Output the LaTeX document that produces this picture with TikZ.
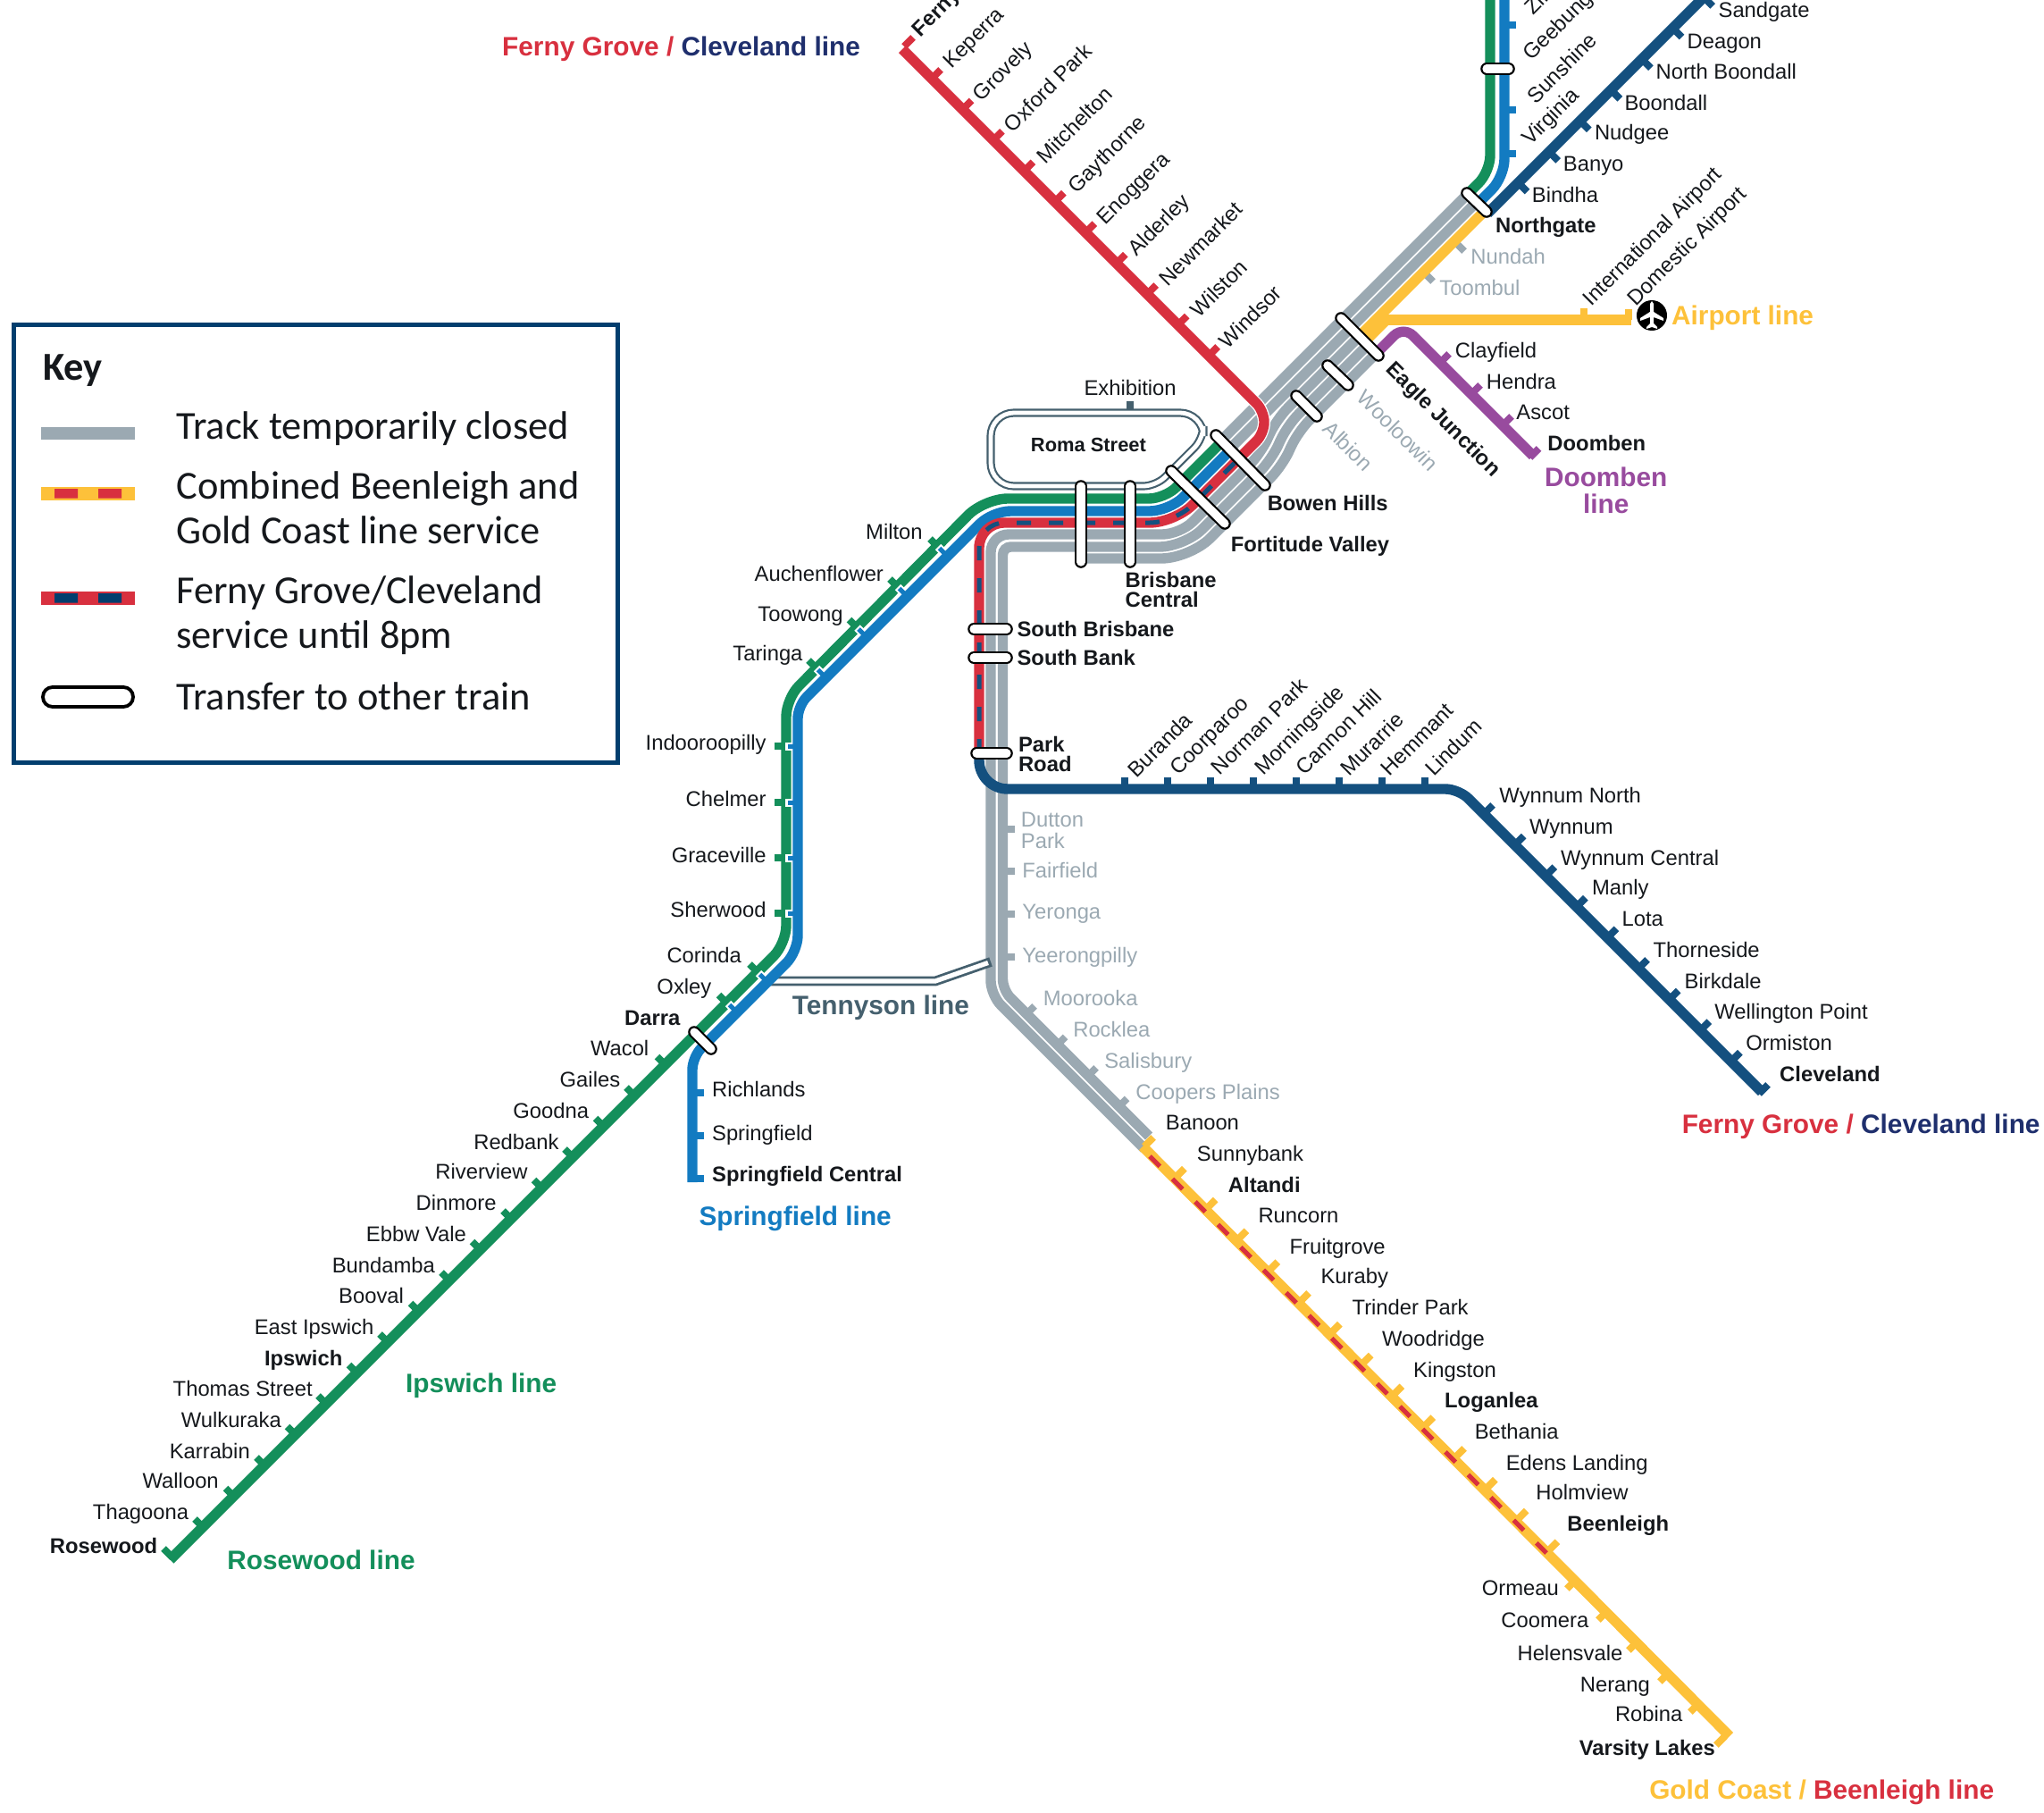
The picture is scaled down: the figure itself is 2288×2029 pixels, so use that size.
\documentclass[tikz,border=0pt]{standalone}
\usepackage{fontspec}
\setmainfont{Liberation Sans}
\newfontfamily\keyfont{Carlito}
\definecolor{cy}{HTML}{FDC13A}
\definecolor{cr}{HTML}{D8303F}
\definecolor{cg}{HTML}{148F5B}
\definecolor{cb}{HTML}{137BC1}
\definecolor{cn}{HTML}{14507F}
\definecolor{cp}{HTML}{984B9E}
\definecolor{cgr}{HTML}{9BA9B2}
\definecolor{cs}{HTML}{45606E}
\definecolor{ckb}{HTML}{023E6E}
\definecolor{ctx}{HTML}{15181C}
\definecolor{chd}{HTML}{1F2F6D}
\tikzset{
 ln/.style={line width=5.7pt},
 tk/.style={line width=4pt},
 dsh/.style={line width=2.5pt,dash pattern=on 8pt off 10pt},
 lab/.style={inner sep=0pt,font=\fontsize{11.9}{13}\selectfont,text=ctx},
 labb/.style={lab,font=\fontsize{11.9}{13}\selectfont\bfseries},
 labg/.style={lab,text=cgr},
 head/.style={inner sep=0pt,font=\fontsize{14.9}{16}\selectfont\bfseries},
 keyt/.style={inner sep=0pt,anchor=base west,font=\keyfont\fontsize{22.2}{24}\selectfont,text=ctx}
}
\newcommand\pill[4]{\draw[line cap=round,line width=6.8pt,black] (#1,#2)--(#3,#4);\draw[line cap=round,line width=4.6pt,white] (#1,#2)--(#3,#4);}
\begin{document}
\begin{tikzpicture}[x=0.5pt,y=-0.5pt]
\useasboundingbox (0,0) rectangle (2288,2029);
\clip (0,0) rectangle (2288,2029);
% ---------- grey tracks
\draw[ln,cgr] (1368,492)--(1643,217);
\draw[ln,cgr] (1377,502)--(1652,227);
\draw[ln,cgr,rounded corners=8pt] (1281,1285.5)--(1109,1113.5)[rounded corners=10pt]--(1109,598)--(1321,598)[rounded corners=9pt]--(1411,508)--(1429,469)--(1522,376);
\draw[ln,cgr,rounded corners=6pt] (1286,1271.5)--(1122.5,1108)[rounded corners=4.5pt]--(1122.5,612)[rounded corners=14pt]--(1326,612)[rounded corners=9pt]--(1423,515)--(1441,476)--(1532,385);
\draw[ln,cgr,rounded corners=16pt] (1210,625)--(1332,625)[rounded corners=9pt]--(1435,522)--(1453,483)--(1541,395);
% grey stops
\foreach \y in {928,975,1023,1071}{\draw[tk,cgr] (1122,\y)--++(14,0);}
\foreach \k in {0,1,2,3}{\draw[tk,cgr] (1149+34.5*\k,1135+34.5*\k)--++(9,-9);}
\draw[tk,cgr] (1631,273)--++(8,8);
\draw[tk,cgr] (1596,307)--++(8,8);
% ---------- Tennyson
\draw[cs,line width=5.4pt,miter limit=10] (862,1098)--(1047,1098)--(1109,1076.5);
\draw[white,line width=2.6pt] (865,1098)--(1047,1098)--(1106,1077.5);
% ---------- Roma Street loop
\draw[cs,line width=4.6pt,fill=white,rounded corners=13pt] (1109,462)--(1347,462)[rounded corners=7pt]--(1347,491)--(1294,544)[rounded corners=13pt]--(1109,544)--cycle;
\draw[white,line width=2.4pt,rounded corners=13pt] (1109,462)--(1347,462)[rounded corners=7pt]--(1347,491)--(1294,544)[rounded corners=13pt]--(1109,544)--cycle;
\draw[tk,cs] (1265,449)--(1265,459);
% ---------- yellow
\draw[ln,cy] (1662,236)--(1522,376);
\draw[ln,cy] (1540,358)--(1826,358);
\fill[cy] (1548,352)--(1525,375)--(1535,383)--(1556,362)--cycle;
\draw[tk,cy] (1773,358)--(1773,345);
\draw[tk,cy] (1823,358)--(1823,346);
\draw[ln,cy] (1279,1283)--(1936,1943);
\foreach \k in {0,...,13}{\draw[tk,cy] (1281+34.8*\k,1283+34.8*\k)--++(10,-10);}
\foreach \a/\b in {1765/1767,1800/1802,1834/1836,1869/1871,1903/1905}{\draw[tk,cy] (\a,\b)--++(-11,11);}
\draw[tk,cy] (1931,1943)--++(-10,10);
\draw[dsh,cr] (1287,1294)--(1735,1742);
% ---------- purple
\draw[ln,cp,rounded corners=7.5pt] (1538,398)--(1571,365)--(1716,510);
\foreach \a/\b in {1612/406,1647/441,1682/476}{\draw[tk,cp] (\a,\b)--++(10,-10);}
\draw[tk,cp] (1712.5,512)--++(10,-10);
% ---------- green
\draw[ln,cg,rounded corners=9pt] (1668,-5)--(1668,192)--(1643,217);
\draw[ln,cg,rounded corners=9pt] (1368,494)--(1304,558)[rounded corners=13pt]--(1102,558)[rounded corners=10pt]--(880,782)--(880,1056)--(190.5,1745.5);
\foreach \y in {835,898,960,1022}{\draw[tk,cg] (880,\y)--++(-13,0);}
\foreach \a/\b in {914/748,959.5/702.5,1005/657,1050/612}{\draw[tk,cg] (\a,\b)--++(-9,-9);}
\foreach \k in {0,1,3,4,...,18}{\draw[tk,cg] (848-34.5*\k,1088+34.5*\k)--++(-9,-9);}
\draw[tk,cg] (193,1743)--++(-10,-10);
% ---------- blue
\foreach \y in {835,898,960,1022}{\draw[white,line width=4.5pt] (888,\y)--(879,\y);}
\foreach \a/\b in {924/758,969.5/712.5,1015/667,1060/622,859/1099,825/1133}{\draw[white,line width=4.5pt] (\a-4,\b-4)--(\a-10,\b-10);}
\draw[ln,cb,rounded corners=10pt] (1684,-5)--(1684,198)--(1654,228);
\draw[ln,cb,rounded corners=11pt] (1377,504)--(1309,572)[rounded corners=10pt]--(1111,572)[rounded corners=7pt]--(893,790)[rounded corners=9pt]--(893,1065)[rounded corners=7pt]--(775,1183)--(775,1323);
\foreach \y in {835,898,960,1022}{\draw[cb,line width=2.5pt] (890,\y)--(881.5,\y);}
\foreach \a/\b in {924/758,969.5/712.5,1015/667,1060/622,859/1099,825/1133}{\draw[cb,line width=2.5pt] (\a-3,\b-3)--(\a-8.5,\b-8.5);}
\foreach \y in {28,123,172}{\draw[tk,cb] (1684,\y)--++(13,0);}
\foreach \y in {1223,1271}{\draw[tk,cb] (775,\y)--++(13,0);}
\draw[tk,cb] (775,1319)--++(13,0);
% ---------- navy
\draw[ln,cn] (1665,239)--(1909,-5);
\foreach \k in {0,...,6}{\draw[tk,cn] (1699.5+34.6*\k,204.5-34.6*\k)--++(10,10);}
\draw[ln,cn,rounded corners=16pt] (1096,843)--(1096,883)[rounded corners=7.5pt]--(1633,883)--(1972,1222);
\foreach \x in {1259,1307,1355,1403,1451,1499,1547,1595}{\draw[tk,cn] (\x,883)--(\x,870);}
\foreach \k in {0,...,8}{\draw[tk,cn] (1661+34.6*\k,911+34.6*\k)--++(10,-10);}
\draw[tk,cn] (1969,1224)--++(10,-10);
% ---------- red
\draw[white,line width=7pt,rounded corners=6pt] (1013,58)--(1415,460)--(1415,485)--(1385,515);
\draw[ln,cr,rounded corners=6pt] (1010,55)--(1415,460)--(1415,485)[rounded corners=14pt]--(1315,585)--(1096,585)--(1096,843);
\draw[dsh,cn,rounded corners=14pt] (1096,843)--(1096,585)--(1315,585)--(1385,515);
\foreach \k in {0,...,9}{\draw[tk,cr] (1043+34.45*\k,88+34.45*\k)--++(10,-10);}
\draw[tk,cr] (1012,52)--++(10,-10);
% ---------- transfer pills
\pill{1642}{216}{1664}{237}
\pill{1501}{356}{1543}{398}
\pill{1486}{409}{1509}{431}
\pill{1451}{443}{1474}{466}
\pill{1361}{487}{1416}{543}
\pill{1311}{527}{1371}{586}
\pill{1210}{544}{1210}{629}
\pill{1265}{544}{1265}{629}
\pill{1090}{704}{1127}{704}
\pill{1090}{736}{1127}{736}
\pill{1093}{843}{1127}{843}
\pill{1664}{77}{1689}{77}
\pill{777}{1155}{796}{1174}
% ---------- airport symbol
\fill[black] (1849,353) circle[radius=17];
\fill[white] (1847,340)--(1849,337)--(1851,340)--(1851,349)--(1862,356)--(1862,359)--(1851,355)--(1851,362)--(1855,366)--(1855,368)--(1849,366)--(1843,368)--(1843,366)--(1847,362)--(1847,355)--(1836,359)--(1836,356)--(1847,349)--cycle;
% ---------- key
\draw[ckb,line width=2.5pt] (15.5,363.5) rectangle (691,853);
\fill[cgr] (46,477.5) rectangle (151,492);
\fill[cy] (46,545) rectangle (151,559.5);
\fill[cr] (61,547) rectangle (87,557.5) (110,547) rectangle (136,557.5);
\fill[cr] (46,661.5) rectangle (151,676.5);
\fill[ckb] (61,664) rectangle (87,674.5) (110,664) rectangle (136,674.5);
\draw[line width=13pt,line cap=round,black] (59,780)--(138,780);
\draw[line width=9pt,line cap=round,white] (59,780)--(138,780);
\node[keyt,font=\keyfont\bfseries\fontsize{22.2}{24}\selectfont] (keyhead) at (48,425) {Key};
\node[keyt] (k1) at (197,491) {Track temporarily closed};
\node[keyt] (k2) at (197,558) {Combined Beenleigh and};
\node[keyt] (k3) at (197,608) {Gold Coast line service};
\node[keyt] (k4) at (197,675) {Ferny Grove/Cleveland};
\node[keyt] (k5) at (197,725) {service until 8pm};
\node[keyt] (k6) at (197,794) {Transfer to other train};
% ---------- labels (in the coordinates of a 1568 wide view)
\begin{scope}[x=0.7296pt,y=-0.7296pt]
\foreach \x/\y/\t in {1318/8/Sandgate,1294/32/Deagon,1270/55/North Boondall,1246/79/Boondall,1223/102/Nudgee,1199/126/Banyo,1175/150/Bindha,1116/269/Clayfield,1140/293/Hendra,1163/316/Ascot,918/885/Sunnybank,894/861/Banoon,965/932/Runcorn,989/956/Fruitgrove,1013/979/Kuraby,1037/1003/Trinder Park,1060/1027/Woodridge,1084/1051/Kingston,1131/1098/Bethania,1155/1122/Edens Landing,1178/1145/Holmview,1150/610/Wynnum North,1173/634/Wynnum,1197/658/Wynnum Central,1221/681/Manly,1244/705/Lota,1268/729/Thorneside,1292/753/Birkdale,1315/776/Wellington Point,1339/800/Ormiston,546/836/Richlands,546/869/Springfield}
 {\node[lab,anchor=base west] at (\x,\y+5.5) {\t};}
\node[lab,anchor=base] at (867,303.5) {Exhibition};
\foreach \x/\y/\t in {1147/173/Northgate,1187/340/Doomben,972/386/Bowen Hills,944/418/Fortitude Valley,863/445/Brisbane,863/460/Central,780/483/South Brisbane,780/505/South Bank,781/571/Park,781/586/Road,942/909/Altandi,1108/1074/Loganlea,1202/1169/Beenleigh,1365/824/Cleveland,546/901/Springfield Central}
 {\node[labb,anchor=base west] at (\x,\y+5.5) {\t};}
\node[labb,anchor=base,font=\fontsize{10.95}{12}\selectfont\bfseries] at (835,346.5) {Roma Street};
\foreach \x/\y/\t in {1128/197/Nundah,1104/221/Toombul,783/629/Dutton,783/645/Park,784/668/Fairfield,784/699/Yeronga,784/733/Yeerongpilly,800/766/Moorooka,823/790/Rocklea,847/814/Salisbury,871/838/Coopers Plains}
 {\node[labg,anchor=base west] at (\x,\y+5.5) {\t};}
\foreach \x/\y/\t in {708/408/Milton,678/440/Auchenflower,647/471/Toowong,616/501/Taringa,588/570/Indooroopilly,588/613/Chelmer,588/656/Graceville,588/698/Sherwood,569/733/Corinda,546/757/Oxley,498/804/Wacol,476/828/Gailes,452/852/Goodna,429/876/Redbank,405/899/Riverview,381/923/Dinmore,358/947/Ebbw Vale,334/971/Bundamba,310/994/Booval,287/1018/East Ipswich,240/1065/Thomas Street,216/1089/Wulkuraka,192/1113/Karrabin,168/1136/Walloon,145/1160/Thagoona,1196/1218/Ormeau,1219/1243/Coomera,1245/1268/Helensvale,1266/1292/Nerang,1291/1315/Robina}
 {\node[lab,anchor=base east] at (\x,\y+5.5) {\t};}
\foreach \x/\y/\t in {522/781/Darra,263/1042/Ipswich,121/1186/Rosewood,1316/1341/Varsity Lakes}
 {\node[labb,anchor=base east] at (\x,\y+5.5) {\t};}
% rotated
\foreach \x/\y/\t in {722/51/Keperra,745/76/Grovely,769/100/Oxford Park,794/124/Mitchelton,818/147/Gaythorne,840/171/Enoggera,864/195/Alderley,888/218/Newmarket,912/242/Wilston,934/266/Windsor,1168/10/Zillmere,1167/45/Geebung,1170/78/Sunshine,1166/110/Virginia,1213/233/International Airport,1247/233/Domestic Airport,864/595/Buranda,896/593/Coorparoo,928/593/Norman Park,961/593/Morningside,993/593/Cannon Hill,1027/594/Murarrie,1058/594/Hemmant,1092/594/Lindum}
 {\node[lab,anchor=base west,rotate=45] at (\x+7.9,\y+2.4) {\t};}
\node[labb,anchor=base west,rotate=45] at (706,29) {Ferny Grove};
\node[labb,anchor=base west,rotate=-45] at (1062.5,284) {Eagle Junction};
\node[labg,anchor=base west,rotate=-45] at (1040,306) {Wooloowin};
\node[labg,anchor=base west,rotate=-45] at (1014,330) {Albion};
% headings
\node[head,anchor=base west] at (385,43) {\textcolor{cr}{Ferny Grove /} \textcolor{chd}{Cleveland line}};
\node[head,anchor=base west] at (1290,869) {\textcolor{cr}{Ferny Grove /} \textcolor{chd}{Cleveland line}};
\node[head,anchor=base west] at (1265,1380) {\textcolor{cy}{Gold Coast /} \textcolor{cr}{Beenleigh line}};
\node[head,anchor=base west,text=cy] at (1282,249) {Airport line};
\node[head,anchor=base,text=cp] at (1232,373) {Doomben};
\node[head,anchor=base,text=cp] at (1232,394) {line};
\node[head,anchor=base west,text=cs] at (607.5,778) {Tennyson line};
\node[head,anchor=base west,text=cb] at (536,940) {Springfield line};
\node[head,anchor=base west,text=cg] at (311,1068) {Ipswich line};
\node[head,anchor=base west,text=cg] at (174,1204) {Rosewood line};
\end{scope}
\end{tikzpicture}
\end{document}
